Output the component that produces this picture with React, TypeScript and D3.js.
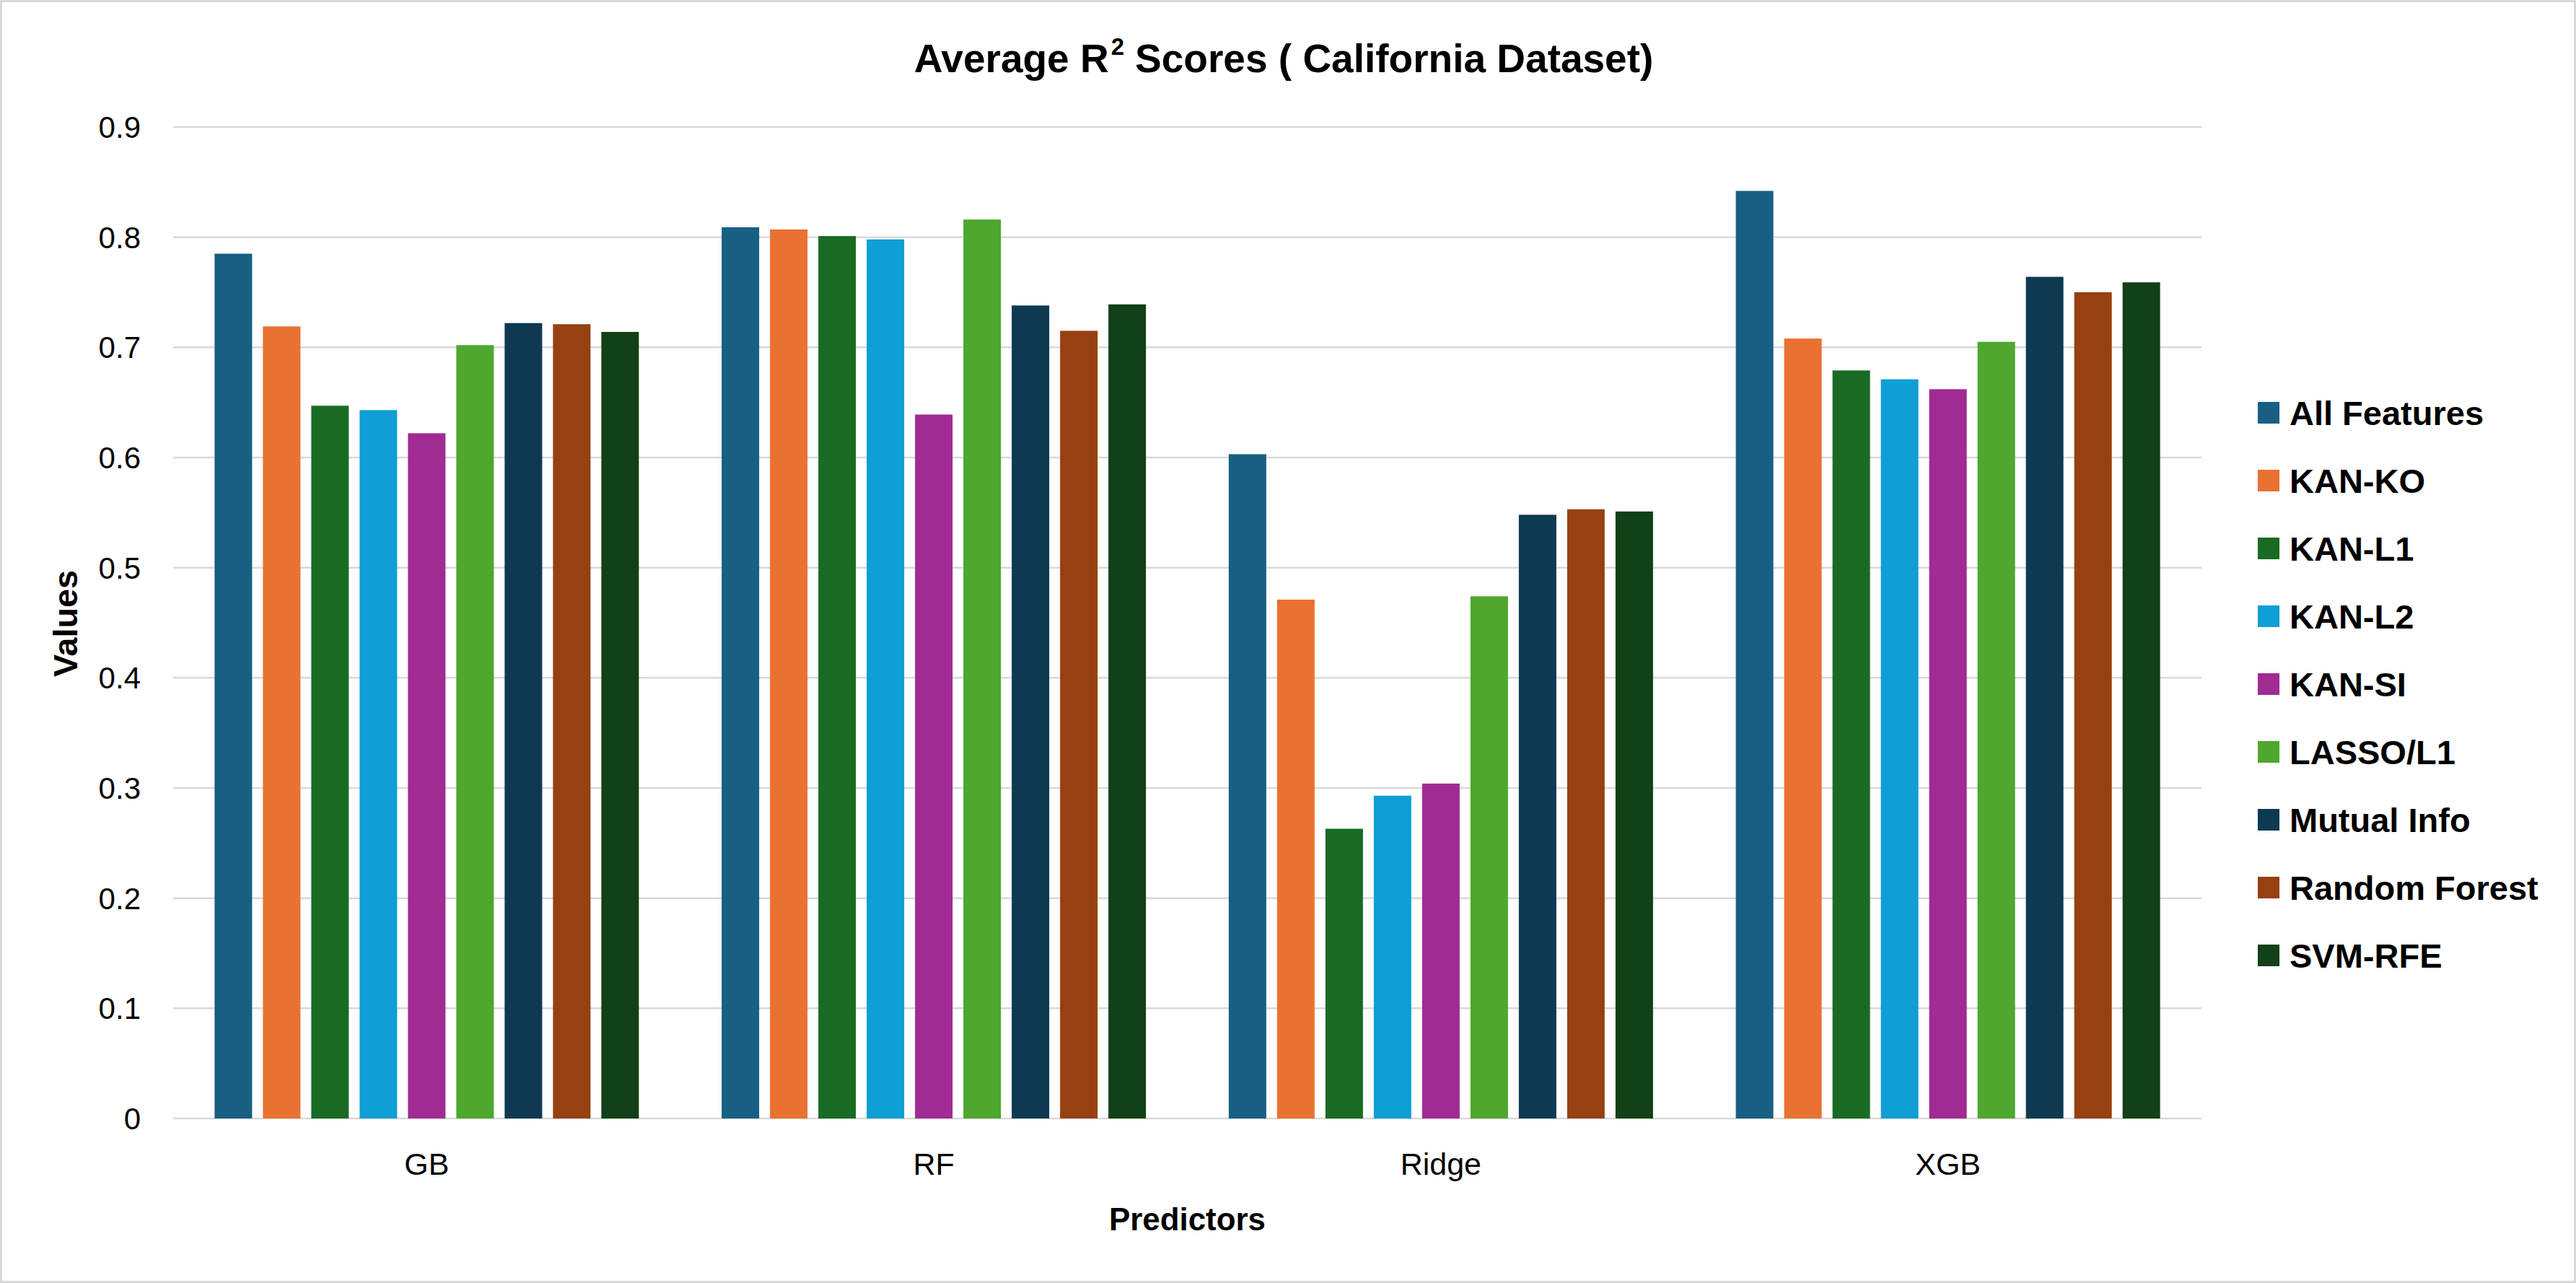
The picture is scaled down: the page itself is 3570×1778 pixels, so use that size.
import React from "react";
import * as d3 from "d3";

const categories = ["GB", "RF", "Ridge", "XGB"];
const seriesNames = [
  "All Features",
  "KAN-KO",
  "KAN-L1",
  "KAN-L2",
  "KAN-SI",
  "LASSO/L1",
  "Mutual Info",
  "Random Forest",
  "SVM-RFE",
];
const allFeatures = [0.785, 0.809, 0.603, 0.842];
const kanKO = [0.719, 0.807, 0.471, 0.708];
const kanL1 = [0.647, 0.801, 0.263, 0.679];
const kanL2 = [0.643, 0.798, 0.293, 0.671];
const kanSI = [0.622, 0.639, 0.304, 0.662];
const lassoL1 = [0.702, 0.816, 0.474, 0.705];
const mutualInfo = [0.722, 0.738, 0.548, 0.764];
const randomForest = [0.721, 0.715, 0.553, 0.75];
const svmRfe = [0.714, 0.739, 0.551, 0.759];
const seriesValues = [allFeatures, kanKO, kanL1, kanL2, kanSI, lassoL1, mutualInfo, randomForest, svmRfe];
const seriesColors = [
  "#176083",
  "#E97132",
  "#196B24",
  "#0F9ED5",
  "#A02B93",
  "#4EA72E",
  "#0E3A51",
  "#974011",
  "#124017",
];
const yTicks = [0, 0.1, 0.2, 0.3, 0.4, 0.5, 0.6, 0.7, 0.8, 0.9];

const W = 3570;
const H = 1778;
const plotLeft = 240;
const plotRight = 3051;
const plotTop = 176;
const plotBottom = 1550;
const FONT = "'Liberation Sans', Arial, sans-serif";

export default function App() {
  const x0 = d3.scaleBand<string>().domain(categories).range([plotLeft, plotRight]).padding(0);
  const groupWidth = 588;
  const groupOffset = (x0.bandwidth() - groupWidth) / 2;
  const x1 = d3
    .scaleBand<string>()
    .domain(seriesNames)
    .range([0, groupWidth])
    .paddingInner(15 / 67)
    .paddingOuter(0);
  const y = d3.scaleLinear().domain([0, 0.9]).range([plotBottom, plotTop]);

  return (
    <svg
      width={W}
      height={H}
      style={{ position: "absolute", left: 0, top: 0, background: "#fff" }}
      xmlns="http://www.w3.org/2000/svg"
    >
      <rect x={1.5} y={1.5} width={W - 3} height={H - 3} fill="#fff" stroke="#d9d9d9" strokeWidth={3} />
      {/* title */}
      <text
        x={1779}
        y={100}
        textAnchor="middle"
        fontFamily={FONT}
        fontWeight="bold"
        fontSize={55}
        fill="#000"
      >
        <tspan>Average R</tspan>
        <tspan fontSize={33} dx={3} dy={-24}>2</tspan>
        <tspan dx={15} dy={24}>Scores ( California Dataset)</tspan>
      </text>
      {/* gridlines */}
      {yTicks.map((t) => (
        <line
          key={"g" + t}
          x1={plotLeft}
          x2={plotRight}
          y1={y(t)}
          y2={y(t)}
          stroke="#d9d9d9"
          strokeWidth={2.5}
        />
      ))}
      {/* y tick labels */}
      {yTicks.map((t) => (
        <text
          key={"t" + t}
          x={195}
          y={y(t) + 15}
          textAnchor="end"
          fontFamily={FONT}
          fontSize={42}
          fill="#000"
        >
          {t === 0 ? "0" : d3.format(".1f")(t)}
        </text>
      ))}
      {/* bars */}
      {categories.map((c, ci) => (
        <g key={c} transform={`translate(${(x0(c) as number) + groupOffset},0)`}>
          {seriesNames.map((s, si) => (
            <rect
              key={s}
              x={x1(s) as number}
              y={y(seriesValues[si][ci])}
              width={x1.bandwidth()}
              height={plotBottom - y(seriesValues[si][ci])}
              fill={seriesColors[si]}
            />
          ))}
        </g>
      ))}
      {/* category labels */}
      {categories.map((c) => (
        <text
          key={"c" + c}
          x={(x0(c) as number) + x0.bandwidth() / 2}
          y={1628}
          textAnchor="middle"
          fontFamily={FONT}
          fontSize={43}
          fill="#000"
        >
          {c}
        </text>
      ))}
      {/* axis titles */}
      <text
        x={(plotLeft + plotRight) / 2}
        y={1705}
        textAnchor="middle"
        fontFamily={FONT}
        fontWeight="bold"
        fontSize={45}
        textLength={217}
        lengthAdjust="spacingAndGlyphs"
        fill="#000"
      >
        Predictors
      </text>
      <text
        transform={`translate(107,864) rotate(-90)`}
        textAnchor="middle"
        fontFamily={FONT}
        fontWeight="bold"
        fontSize={46}
        textLength={148}
        lengthAdjust="spacingAndGlyphs"
        fill="#000"
      >
        Values
      </text>
      {/* legend */}
      {seriesNames.map((s, i) => (
        <g key={"l" + s} transform={`translate(3129,${572 + i * 94})`}>
          <rect x={0} y={-15} width={30} height={30} fill={seriesColors[i]} />
          <text x={44} y={17} fontFamily={FONT} fontWeight="bold" fontSize={47} fill="#000">
            {s}
          </text>
        </g>
      ))}
    </svg>
  );
}
